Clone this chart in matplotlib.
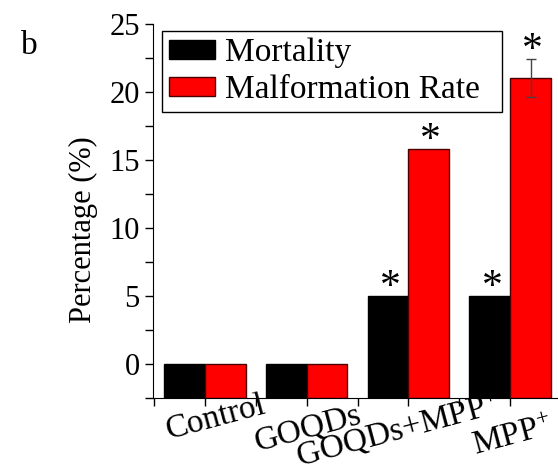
import matplotlib
matplotlib.use("Agg")
import matplotlib.pyplot as plt
import numpy as np
from matplotlib.ticker import MultipleLocator
from matplotlib.transforms import ScaledTranslation

plt.rcParams['font.family'] = ['Liberation Serif', 'DejaVu Serif']
plt.rcParams['mathtext.fontset'] = 'custom'
plt.rcParams['mathtext.rm'] = 'Liberation Serif'
plt.rcParams['mathtext.it'] = 'Liberation Serif:italic'
plt.rcParams['mathtext.bf'] = 'Liberation Serif:bold'

categories = ['Control', 'GOQDs', r'GOQDs+MPP$^{+}$', r'MPP$^{+}$']
mortality = [0, 0, 5, 5]
malformation = [0, 0, 15.8, 21.05]
malformation_err = [0, 0, 0, 1.4]
mortality_sig = [False, False, True, True]
malformation_sig = [False, False, True, True]

# layout-only nudges of the rotated category labels (points: dx right, dy up)
label_nudges = [(8, 5), (1, -3), (-8, -4), (1.5, -8)]

fig = plt.figure(figsize=(5.58, 4.73), dpi=100)
ax = fig.add_axes([153/558, 75/473, 404/558, 374/473])

ymin, ymax = -2.5, 25
x = np.arange(len(categories))
w = 0.4
ax.bar(x - w/2, np.array(mortality) - ymin, w, bottom=ymin, color='black',
       edgecolor='black', linewidth=1, label='Mortality')
ax.bar(x + w/2, np.array(malformation) - ymin, w, bottom=ymin, color='#ff0000',
       edgecolor='#4a0000', linewidth=1, label='Malformation Rate')
err = np.array(malformation_err)
mask = err > 0
ax.errorbar((x + w/2)[mask], np.array(malformation)[mask], yerr=err[mask], fmt='none',
            ecolor='#444444', elinewidth=1, capsize=3.6, capthick=1)

for xi, v, s in zip(x, mortality, mortality_sig):
    if s:
        ax.annotate('*', (xi - w/2, v), xytext=(1.5, -1.5), textcoords='offset points',
                    ha='center', va='baseline', fontsize=30)
for xi, v, e, s in zip(x, malformation, malformation_err, malformation_sig):
    if s:
        ax.annotate('*', (xi + w/2, v + e), xytext=(1.5, -1.5), textcoords='offset points',
                    ha='center', va='baseline', fontsize=30)

ax.set_xlim(-0.51, 3.46)
ax.set_ylim(ymin, ymax)
ax.yaxis.set_major_locator(MultipleLocator(5))
ax.yaxis.set_minor_locator(MultipleLocator(2.5))
ax.set_xticks(x)
ax.set_xticks(np.arange(-0.5, 3.5, 1.0), minor=True)
ax.tick_params(which='both', direction='out', length=6, width=1, color='black')
ax.tick_params(axis='y', labelsize=22)
ax.tick_params(axis='x', which='major', pad=13.5)
ax.set_xticklabels(categories, rotation=15, ha='center', va='center',
                   rotation_mode='anchor', fontsize=24)
ax.spines['top'].set_visible(False)
ax.spines['right'].set_visible(False)
ax.set_ylabel('Percentage (%)', fontsize=22)
ax.yaxis.set_label_coords(-0.136, 0.449)

leg = ax.legend(loc='upper left', bbox_to_anchor=(0.022, 0.972, 340/404, 0.01),
                mode='expand', fontsize=24,
                frameon=True, fancybox=False, edgecolor='black', framealpha=1,
                handlelength=1.4, handleheight=0.5, handletextpad=0.3,
                borderpad=0.2, labelspacing=0.2, borderaxespad=0)
leg.get_frame().set_linewidth(1)

for lab, (dx, dy) in zip(ax.get_xticklabels(), label_nudges):
    lab.set_transform(lab.get_transform() + ScaledTranslation(dx/72, dy/72, fig.dpi_scale_trans))

fig.text(29/558, 1 - 46/473, 'b', fontsize=24, ha='center', va='center')

fig.savefig('out.png', dpi=100)
